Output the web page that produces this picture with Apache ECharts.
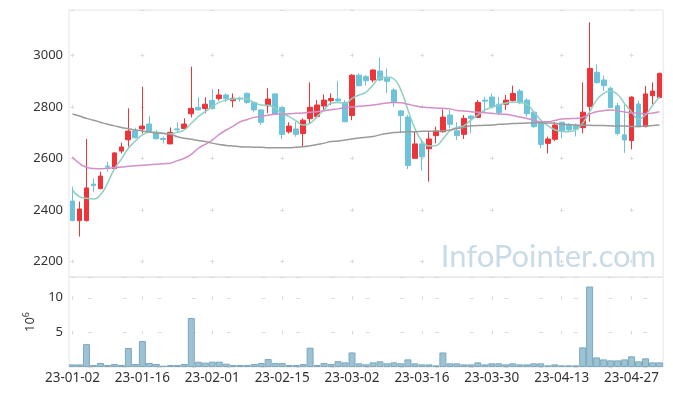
<!DOCTYPE html>
<html><head><meta charset="utf-8">
<script src="https://cdn.jsdelivr.net/npm/echarts@6/dist/echarts.min.js"></script>
<style>html,body{margin:0;padding:0;background:#fff}#c{width:673px;height:396px}</style>
</head><body><div id="c"></div><script>
const dates = [
'23-01-02','23-01-03','23-01-04','23-01-05','23-01-06','23-01-09','23-01-10','23-01-11','23-01-12','23-01-13',
'23-01-16','23-01-17','23-01-18','23-01-19','23-01-20','23-01-25','23-01-26','23-01-27','23-01-30','23-01-31',
'23-02-01','23-02-02','23-02-03','23-02-06','23-02-07','23-02-08','23-02-09','23-02-10','23-02-13','23-02-14',
'23-02-15','23-02-16','23-02-17','23-02-20','23-02-21','23-02-22','23-02-23','23-02-24','23-02-27','23-02-28',
'23-03-02','23-03-03','23-03-06','23-03-07','23-03-08','23-03-09','23-03-10','23-03-13','23-03-14','23-03-15',
'23-03-16','23-03-17','23-03-20','23-03-21','23-03-22','23-03-23','23-03-24','23-03-27','23-03-28','23-03-29',
'23-03-30','23-03-31','23-04-03','23-04-04','23-04-05','23-04-06','23-04-07','23-04-10','23-04-11','23-04-12',
'23-04-13','23-04-14','23-04-17','23-04-18','23-04-19','23-04-20','23-04-21','23-04-24','23-04-25','23-04-26',
'23-04-27','23-04-28','23-05-02','23-05-03','23-05-04'];
const opens = [2434,2358,2358,2500,2482,2570,2560,2628,2672,2706,2714,2733,2701,2677,2656,2714,2716,2773,2798,2793,
2825,2832,2846,2824,2833,2852,2817,2788,2804,2850,2797,2703,2714,2696,2754,2762,2803,2824,2830,2817,
2766,2923,2917,2904,2939,2911,2865,2784,2760,2600,2656,2637,2688,2703,2768,2707,2693,2764,2759,2826,
2838,2810,2810,2824,2861,2826,2779,2736,2658,2674,2740,2729,2728,2719,2801,2934,2904,2872,2804,2691,
2669,2811,2723,2843,2836];
const closes = [2358,2403,2485,2494,2531,2566,2621,2644,2706,2680,2725,2701,2676,2673,2701,2711,2733,2794,2788,2810,
2793,2846,2832,2833,2830,2817,2788,2740,2830,2772,2693,2725,2693,2748,2798,2807,2826,2832,2823,2742,
2923,2882,2901,2943,2904,2899,2817,2766,2572,2656,2606,2675,2706,2760,2732,2688,2755,2754,2817,2822,
2801,2777,2826,2852,2816,2773,2723,2654,2675,2729,2707,2710,2713,2779,2949,2894,2882,2797,2696,2671,
2838,2723,2850,2861,2930];
const lows = [2355,2296,2355,2470,2480,2548,2558,2619,2645,2677,2697,2700,2673,2658,2655,2701,2710,2759,2786,2775,
2790,2824,2818,2798,2820,2810,2779,2729,2775,2770,2675,2696,2684,2645,2736,2755,2788,2807,2818,2740,
2748,2880,2882,2895,2900,2852,2800,2697,2558,2598,2551,2509,2658,2700,2716,2671,2675,2697,2756,2779,
2798,2768,2788,2820,2810,2762,2718,2639,2619,2667,2678,2705,2685,2697,2742,2890,2861,2795,2688,2621,
2635,2720,2720,2810,2833];
const highs = [2490,2432,2675,2522,2548,2587,2624,2661,2794,2719,2878,2764,2710,2684,2720,2740,2755,2956,2837,2837,
2869,2869,2852,2852,2839,2856,2820,2790,2872,2852,2801,2740,2742,2755,2895,2826,2848,2852,2901,2826,
2927,2930,2923,2945,2992,2949,2872,2788,2768,2706,2671,2701,2723,2790,2788,2740,2768,2768,2826,2839,
2852,2839,2846,2882,2869,2833,2782,2740,2684,2740,2742,2736,2735,2895,3128,2965,2921,2878,2816,2810,
2840,2824,2881,2895,2932];
const ma5 = [2477,2451,2445,2442,2458,2503,2559,2597,2639,2667,2691,2701,2701,2697,2695,2701,2710,2736,2762,2781,
2801,2817,2826,2830,2833,2830,2817,2807,2806,2794,2775,2762,2745,2729,2736,2762,2788,2814,2817,2813,
2833,2846,2857,2885,2913,2916,2908,2865,2788,2716,2667,2648,2649,2675,2706,2720,2726,2748,2768,2788,
2798,2807,2814,2819,2817,2810,2781,2749,2727,2711,2704,2703,2710,2736,2781,2826,2852,2861,2848,2813,
2781,2753,2769,2805,2839];
const ma20 = [2604,2580,2565,2560,2559,2561,2564,2566,2569,2571,2573,2575,2577,2579,2581,2591,2600,2615,2639,2654,
2671,2693,2710,2725,2742,2751,2759,2763,2767,2771,2772,2773,2775,2776,2779,2781,2785,2789,2792,2797,
2799,2802,2804,2807,2811,2815,2817,2816,2810,2804,2799,2797,2795,2794,2792,2786,2784,2781,2779,2777,
2775,2772,2771,2766,2760,2755,2749,2742,2742,2747,2753,2754,2755,2759,2772,2781,2785,2788,2784,2780,
2777,2775,2773,2776,2781];
const ma60 = [2772,2764,2755,2748,2740,2732,2726,2720,2715,2710,2706,2702,2698,2696,2693,2684,2678,2674,2669,2665,
2659,2654,2650,2648,2645,2644,2643,2643,2641,2641,2641,2641,2643,2645,2649,2654,2659,2665,2667,2671,
2675,2679,2682,2685,2691,2696,2700,2702,2703,2703,2705,2705,2706,2707,2710,2716,2720,2726,2727,2728,
2729,2732,2733,2735,2736,2737,2738,2738,2737,2736,2732,2731,2729,2728,2728,2727,2727,2726,2725,2725,
2724,2724,2725,2727,2729];
const volumes = [0.38,0.38,3.3,0.29,0.58,0.29,0.43,0.29,2.74,0.43,3.75,0.58,0.43,0.19,0.29,0.29,0.43,7.07,0.77,0.63,
0.77,0.77,0.48,0.29,0.29,0.29,0.43,0.58,1.15,0.58,0.58,0.29,0.29,0.43,2.79,0.29,0.58,0.43,0.85,0.67,
2.1,0.53,0.38,0.67,0.82,0.53,0.67,0.53,1.1,0.53,0.38,0.38,0.24,2.1,0.53,0.53,0.38,0.38,0.67,0.38,
0.53,0.53,0.38,0.53,0.38,0.38,0.53,0.53,0.24,0.38,0.24,0.24,0.24,2.84,11.63,1.39,1.1,0.96,0.96,1.1,
1.54,0.82,1.25,0.67,0.67];

const candleData = opens.map((o, i) => [o, closes[i], lows[i], highs[i]]);
const FONT = '"Noto Sans", sans-serif';
const GRIDC = '#e4e4e4';
const chart = echarts.init(document.getElementById('c'));
chart.setOption({
  animation: false,
  textStyle: {fontFamily: FONT},
  grid: [
    {left: 69, right: 10, top: 10, height: 267, show: true, borderColor: GRIDC, borderWidth: 1},
    {left: 69, right: 10, top: 277, height: 90, show: true, borderColor: GRIDC, borderWidth: 1}
  ],
  graphic: [{
    type: 'text', right: 17, top: 241, z: 0,
    style: {text: 'InfoPointer.com', fill: '#c9dbe6', font: '31px Lato, sans-serif'}
  }],
  xAxis: [
    {type: 'category', data: dates, gridIndex: 0, boundaryGap: true,
     axisLine: {show: false}, axisTick: {show: false}, axisLabel: {show: false},
     splitLine: {show: true, interval: 9, alignWithLabel: true,
       lineStyle: {color: '#dcdcdc', width: 1, type: [4, 47.5], dashOffset: 8.2}}},
    {type: 'category', data: dates, gridIndex: 1, boundaryGap: true,
     axisLine: {show: false}, axisTick: {show: false},
     axisLabel: {interval: 9, color: '#333', fontSize: 13.5, margin: 4, fontFamily: FONT},
     splitLine: {show: true, interval: 9, alignWithLabel: true,
       lineStyle: {color: '#dcdcdc', width: 1, type: [4, 30.7], dashOffset: 15.7}}}
  ],
  yAxis: [
    {type: 'value', gridIndex: 0, min: 2139, max: 3176, splitNumber: 5, scale: true,
     axisLine: {show: false}, axisTick: {show: false},
     axisLabel: {color: '#333', fontSize: 13, margin: 6, showMinLabel: false, showMaxLabel: false, fontFamily: FONT,
                 formatter: v => String(v)},
     splitLine: {show: true, lineStyle: {color: '#dcdcdc', width: 1, type: [4, 65.9], dashOffset: 68.4}}},
    {type: 'value', gridIndex: 1, min: 0, max: 13, interval: 5,
     axisLine: {show: false}, axisTick: {show: false},
     axisLabel: {color: '#333', fontSize: 13, margin: 6, showMinLabel: false, showMaxLabel: false, fontFamily: FONT,
                 formatter: v => String(v)},
     name: '{a|10}{b|6}', nameLocation: 'middle', nameRotate: 90, nameGap: 28,
     nameTextStyle: {rich: {a: {fontSize: 13, color: '#333', fontFamily: FONT},
                            b: {fontSize: 9, color: '#333', fontFamily: FONT, verticalAlign: 'top', padding: [0, 0, 8, 0]}}},
     splitLine: {show: true, lineStyle: {color: '#dcdcdc', width: 1, type: [4, 30.7], dashOffset: 15.7}}}
  ],
  series: [
    {type: 'candlestick', name: 'price', xAxisIndex: 0, yAxisIndex: 0, data: candleData, barWidth: '76%', z: 2,
     itemStyle: {color: '#ee3439', color0: '#6cc3da', borderColor: '#ee3439', borderColor0: '#6cc3da', borderWidth: 1}},
    {type: 'line', name: 'MA5', data: ma5, smooth: true, showSymbol: false, z: 3,
     lineStyle: {color: '#8fd0c3', width: 1.5}},
    {type: 'line', name: 'MA20', data: ma20, smooth: true, showSymbol: false, z: 3,
     lineStyle: {color: '#d38fc8', width: 1.5}},
    {type: 'line', name: 'MA60', data: ma60, smooth: true, showSymbol: false, z: 3,
     lineStyle: {color: '#9a9a9a', width: 1.5}},
    {type: 'bar', name: 'volume', xAxisIndex: 1, yAxisIndex: 1, data: volumes, barWidth: '100%',
     itemStyle: {color: '#9cc3d4', borderColor: '#7ea8bc', borderWidth: 1}}
  ]
});
</script></body></html>
